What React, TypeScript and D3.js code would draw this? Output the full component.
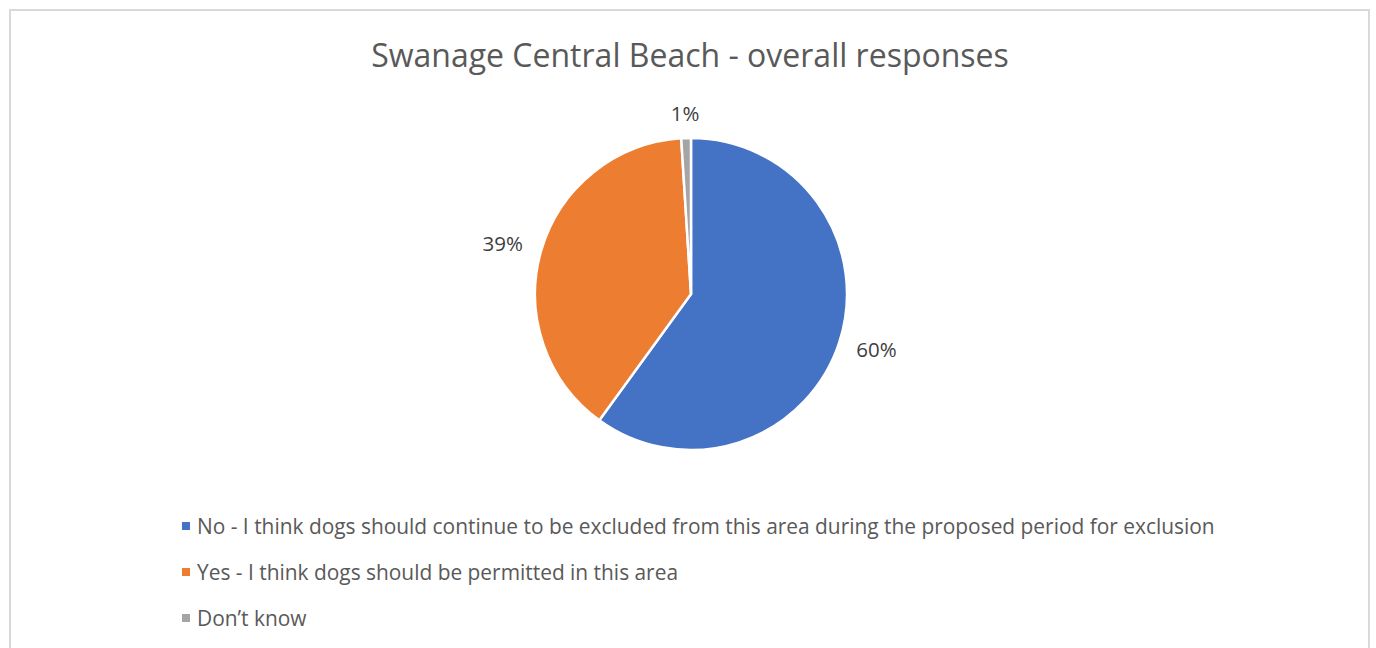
import React from "react";
import * as d3 from "d3";

const categories = [
  "No - I think dogs should continue to be excluded from this area during the proposed period for exclusion",
  "Yes - I think dogs should be permitted in this area",
  "Don’t know",
];
const values = [60, 39, 1];
const labels = ["60%", "39%", "1%"];
const colors = ["#4472C4", "#ED7D31", "#A5A5A5"];
const title = "Swanage Central Beach - overall responses";

const W = 1376;
const H = 648;
const FONT = "'Open Sans', Lato, sans-serif";

export default function App() {
  const cx = 691;
  const cy = 294;
  const r = 156;
  const pie = d3.pie<number>().sort(null).value((d) => d)(values);
  const arc = d3.arc<d3.PieArcDatum<number>>().innerRadius(0).outerRadius(r);
  const labelW = [50, 52, 30];
  const labelH = 20;
  const gap = 14;
  return (
    <svg width={W} height={H} style={{ position: "absolute", left: 0, top: 0 }}>
      <rect x={0} y={0} width={W} height={H} fill="#fff" />
      <rect x={10} y={10} width={1359} height={660} fill="#fff" stroke="#d9d9d9" strokeWidth={2} />
      <text x={690} y={67} textAnchor="middle" fontFamily={FONT} fontSize={32} fill="#595959">
        {title}
      </text>
      <g transform={`translate(${cx},${cy})`}>
        {pie.map((p, i) => (
          <path key={i} d={arc(p) || ""} fill={colors[i]} stroke="#fff" strokeWidth={2.5} strokeLinejoin="round" />
        ))}
        {pie.map((p, i) => {
          const a = (p.startAngle + p.endAngle) / 2;
          const s = Math.sin(a);
          const c = -Math.cos(a);
          const x = s * (r + gap) + s * labelW[i] / 2;
          const y = c * (r + gap) + c * labelH / 2;
          return (
            <text key={i} x={x} y={y} dy="0.35em" textAnchor="middle" fontFamily={FONT} fontSize={20.5} fill="#404040">
              {labels[i]}
            </text>
          );
        })}
      </g>
      {categories.map((c, i) => (
        <g key={i} transform={`translate(182,${527 + i * 46})`}>
          <rect x={0} y={-5} width={8} height={8} fill={colors[i]} />
          <text x={15} y={0} dy="0.35em" fontFamily={FONT} fontSize={20.9} fill="#595959">
            {c}
          </text>
        </g>
      ))}
    </svg>
  );
}
